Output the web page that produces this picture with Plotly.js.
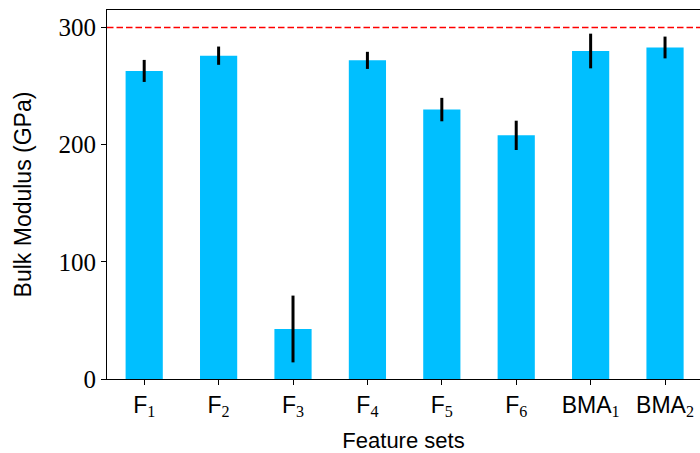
<!DOCTYPE html>
<html><head><meta charset="utf-8">
<script src="https://cdn.plot.ly/plotly-3.0.1.min.js"></script>
<style>html,body{margin:0;padding:0;background:#fff}#chart{width:700px;height:453px}</style>
</head><body><div id="chart"></div>
<script>
const categories = ["F1","F2","F3","F4","F5","F6","BMA1","BMA2"];
const tickLabels = ["F","F","F","F","F","F","BMA","BMA"];
const tickSubs = ["1","2","3","4","5","6","1","2"];
const bulkModulus = [263, 276, 42.7, 272, 230, 208, 280, 283];
const errors = [9.4, 7.8, 28.5, 7.3, 10, 12.5, 14.8, 9.3];
const reference = 300;

const sub = s => '<span style="font-family:\'Liberation Serif\',serif">' + '<sub>' + s + '</sub></span>';
const tickText = tickLabels.map((t,i) => t + sub(tickSubs[i]));
const xIdx = categories.map((_,i) => i);

const trace = {
  type: 'bar', x: xIdx, y: bulkModulus, width: 0.5,
  marker: {color: '#00BFFF', line: {width: 0}},
  error_y: {type: 'data', array: errors, visible: true, color: '#000', thickness: 3, width: 0}
};

const layout = {
  width: 700, height: 453,
  margin: {l: 106.5, r: 0, t: 9.5, b: 74, pad: 0},
  paper_bgcolor: '#fff', plot_bgcolor: '#fff',
  showlegend: false,
  font: {family: 'Liberation Sans, sans-serif', size: 22, color: '#000'},
  xaxis: {
    range: [-0.5, 7.47], tickvals: xIdx, ticktext: tickText,
    showgrid: false, zeroline: false, showline: true, linecolor: '#000', linewidth: 1, mirror: true,
    ticks: 'outside', ticklen: 5, tickwidth: 1, tickcolor: '#000',
    tickfont: {family: 'Liberation Sans, sans-serif', size: 23},
    title: {text: 'Feature sets', font: {family: 'Liberation Sans, sans-serif', size: 22}, standoff: 13}
  },
  yaxis: {
    range: [0, 315], tickvals: [0,100,200,300], ticktext: ['0','100','200','300'],
    showgrid: false, zeroline: false, showline: true, linecolor: '#000', linewidth: 1,
    ticks: 'outside', ticklen: 5, tickwidth: 1, tickcolor: '#000',
    tickfont: {family: 'Liberation Serif, serif', size: 25},
    title: {text: 'Bulk Modulus (GPa)', font: {family: 'Liberation Sans, sans-serif', size: 23}, standoff: 20}
  },
  shapes: [{
    type: 'line', xref: 'paper', x0: 0, x1: 1, yref: 'y', y0: reference, y1: reference,
    line: {color: '#ff0000', width: 1.5, dash: '6.5px,3px'}
  }]
};
Plotly.newPlot('chart', [trace], layout, {staticPlot: true, displayModeBar: false});
</script></body></html>
